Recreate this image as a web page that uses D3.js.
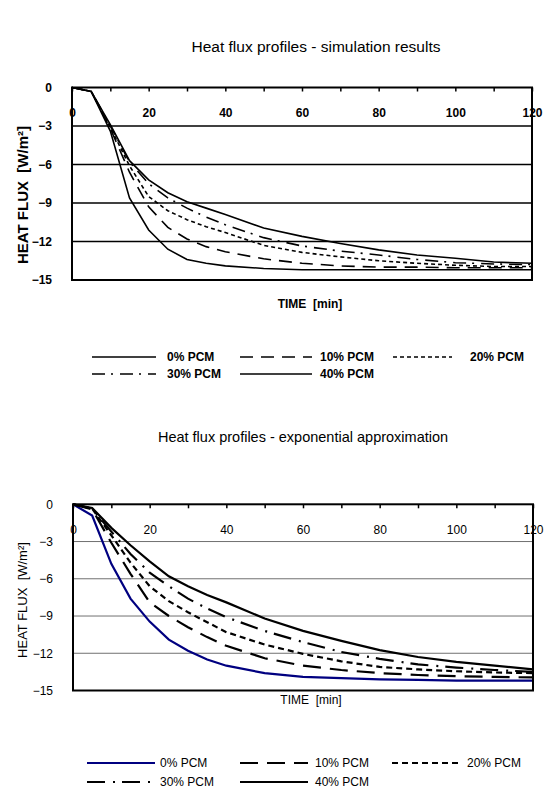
<!DOCTYPE html>
<html>
<head>
<meta charset="utf-8">
<script src="https://cdn.jsdelivr.net/npm/d3@7"></script>
<style>
body { margin: 0; background: #fff; }
text { font-family: "Liberation Sans", Arial, sans-serif; }
</style>
</head>
<body>
<div id="graph"></div>
<script>
// time steps [min]
var times = [0, 5, 10, 15, 20, 25, 30, 35, 40, 50, 60, 70, 80, 90, 100, 110, 120];
var seriesNames = ["0% PCM", "10% PCM", "20% PCM", "30% PCM", "40% PCM"];

// simulation results [W/m2]
var sim0 = [0, -0.3, -3.4, -8.6, -11.1, -12.6, -13.4, -13.7, -13.9, -14.1, -14.2, -14.2, -14.2, -14.2, -14.2, -14.2, -14.2];
var sim10 = [0, -0.3, -3.2, -6.6, -9.3, -10.9, -11.8, -12.4, -12.8, -13.35, -13.7, -13.9, -14.0, -14.0, -14.05, -14.05, -14.05];
var sim20 = [0, -0.3, -3.1, -6.1, -8.5, -9.6, -10.3, -10.85, -11.3, -12.3, -12.85, -13.2, -13.5, -13.7, -13.85, -13.95, -13.95];
var sim30 = [0, -0.3, -3.0, -5.8, -7.5, -8.6, -9.4, -10.1, -10.7, -11.7, -12.35, -12.75, -13.05, -13.4, -13.65, -13.75, -13.8];
var sim40 = [0, -0.3, -2.9, -5.7, -7.2, -8.2, -8.9, -9.4, -9.9, -10.95, -11.6, -12.15, -12.65, -13.05, -13.3, -13.6, -13.7];

// exponential approximation [W/m2]
var exp0 = [0, -0.9, -4.8, -7.6, -9.45, -10.9, -11.8, -12.5, -13.0, -13.6, -13.9, -14.0, -14.1, -14.15, -14.2, -14.2, -14.2];
var exp10 = [0, -0.4, -3.1, -5.6, -7.9, -9.0, -9.9, -10.7, -11.4, -12.4, -13.0, -13.35, -13.6, -13.75, -13.85, -13.9, -13.95];
var exp20 = [0, -0.35, -2.5, -4.7, -6.6, -7.8, -8.7, -9.5, -10.3, -11.3, -12.05, -12.65, -13.1, -13.3, -13.45, -13.55, -13.6];
var exp30 = [0, -0.35, -2.2, -4.0, -5.5, -6.6, -7.6, -8.4, -9.1, -10.2, -11.1, -11.9, -12.45, -12.9, -13.15, -13.35, -13.5];
var exp40 = [0, -0.3, -1.9, -3.3, -4.6, -5.8, -6.6, -7.3, -7.9, -9.2, -10.2, -11.0, -11.75, -12.3, -12.7, -13.0, -13.3];

var xTicks = [0, 10, 20, 30, 40, 50, 60, 70, 80, 90, 100, 110, 120];
var xTickLabels = [0, 20, 40, 60, 80, 100, 120];
var yTicks = [0, -3, -6, -9, -12, -15];

var w = 546;
var h = 792;

var svg = d3.select("#graph")
    .append("svg")
    .attr("width", w)
    .attr("height", h);

var drawChart = function (c) {
    var g = svg.append("g");
    var weight = c.bold ? "bold" : "normal";

    var xScale = d3.scaleLinear().domain([0, 120]).range([c.left, c.right]);
    var yScale = d3.scaleLinear().domain([0, -15]).range([c.top, c.bottom]);

    // title
    g.append("text")
        .attr("x", c.titleX)
        .attr("y", c.titleY)
        .attr("text-anchor", "middle")
        .attr("font-size", c.titleSize)
        .text(c.title);

    // horizontal grid lines
    g.selectAll(".grid")
        .data(yTicks.slice(1, -1))
        .enter()
        .append("line")
        .attr("x1", c.left)
        .attr("x2", c.right)
        .attr("y1", function (d) { return yScale(d); })
        .attr("y2", function (d) { return yScale(d); })
        .attr("stroke", c.gridColor)
        .attr("stroke-width", c.gridWidth);

    var line = d3.line()
        .x(function (d, i) { return xScale(times[i]); })
        .y(function (d) { return yScale(d); });

    g.selectAll(".series")
        .data(c.series)
        .enter()
        .append("path")
        .attr("d", line)
        .attr("fill", "none")
        .attr("stroke", function (d, i) { return c.colors[i]; })
        .attr("stroke-width", c.lineWidth)
        .attr("stroke-dasharray", function (d, i) { return c.dashes[i]; });

    // plot frame
    g.append("rect")
        .attr("x", c.left)
        .attr("y", c.top)
        .attr("width", c.right - c.left)
        .attr("height", c.bottom - c.top)
        .attr("fill", "none")
        .attr("stroke", "black")
        .attr("stroke-width", 2);

    // x axis sits on the zero line at the top, labels inside the plot
    var xAxis = d3.axisBottom(xScale)
        .tickValues(xTicks)
        .tickSize(4)
        .tickPadding(17)
        .tickFormat(function (d) { return xTickLabels.indexOf(d) >= 0 ? d : ""; });

    var xg = g.append("g")
        .attr("transform", "translate(0," + c.top + ")")
        .call(xAxis);
    xg.select(".domain").remove();
    xg.selectAll(".tick line").attr("stroke", "black").attr("stroke-width", 1.5);
    xg.selectAll("text")
        .attr("fill", "black")
        .attr("font-size", "12px")
        .attr("font-weight", weight)
        .attr("font-family", "Liberation Sans, Arial, sans-serif");

    var yAxis = d3.axisLeft(yScale)
        .tickValues(yTicks)
        .tickSize(0)
        .tickPadding(c.left - c.yLabelRight);

    var yg = g.append("g")
        .attr("transform", "translate(" + c.left + ",0)")
        .call(yAxis);
    yg.select(".domain").remove();
    yg.selectAll("text")
        .attr("fill", "black")
        .attr("font-size", "12px")
        .attr("font-weight", weight)
        .attr("font-family", "Liberation Sans, Arial, sans-serif");

    // axis titles
    g.append("text")
        .attr("transform", "translate(" + c.yTitleX + "," + c.yTitleY + ") rotate(-90)")
        .attr("text-anchor", "middle")
        .attr("dy", "0.35em")
        .attr("font-size", c.yTitleSize)
        .attr("font-weight", weight)
        .attr("xml:space", "preserve")
        .text("HEAT FLUX  [W/m²]");

    g.append("text")
        .attr("x", c.xTitleX)
        .attr("y", c.xTitleY)
        .attr("text-anchor", "middle")
        .attr("font-size", c.xTitleSize)
        .attr("font-weight", weight)
        .attr("xml:space", "preserve")
        .text("TIME  [min]");

    // legend
    var legend = g.selectAll(".legend")
        .data(seriesNames)
        .enter()
        .append("g");

    legend.append("line")
        .attr("x1", function (d, i) { return c.legendX1[i % 3]; })
        .attr("x2", function (d, i) { return c.legendX2[i % 3]; })
        .attr("y1", function (d, i) { return c.legendRowY[Math.floor(i / 3)]; })
        .attr("y2", function (d, i) { return c.legendRowY[Math.floor(i / 3)]; })
        .attr("stroke", function (d, i) { return c.colors[i]; })
        .attr("stroke-width", c.lineWidth)
        .attr("stroke-dasharray", function (d, i) { return c.dashes[i]; });

    legend.append("text")
        .attr("x", function (d, i) { return c.legendTextX[i % 3]; })
        .attr("y", function (d, i) { return c.legendRowY[Math.floor(i / 3)] + 4; })
        .attr("font-size", "12px")
        .attr("font-weight", weight)
        .text(function (d) { return d; });
};

drawChart({
    title: "Heat flux profiles - simulation results",
    titleX: 316, titleY: 52, titleSize: "15.5px",
    left: 72, right: 532, top: 87.5, bottom: 280,
    bold: true,
    series: [sim0, sim10, sim20, sim30, sim40],
    colors: ["black", "black", "black", "black", "black"],
    dashes: [null, "13,8", "4,3", "13,6,2,7", null],
    lineWidth: 1.6,
    gridColor: "black", gridWidth: 1.5,
    yLabelRight: 52,
    yTitleX: 23, yTitleY: 195, yTitleSize: "15px",
    xTitleX: 310, xTitleY: 308, xTitleSize: "12px",
    legendX1: [92, 240, 393], legendX2: [156, 312, 452], legendTextX: [167, 320, 470],
    legendRowY: [357, 374]
});

drawChart({
    title: "Heat flux profiles - exponential approximation",
    titleX: 303, titleY: 442, titleSize: "14.5px",
    left: 73, right: 533, top: 504.3, bottom: 690.5,
    bold: false,
    series: [exp0, exp10, exp20, exp30, exp40],
    colors: ["#000080", "black", "black", "black", "black"],
    dashes: [null, "18,9", "6,4", "18,8,2,7", null],
    lineWidth: 2.2,
    gridColor: "#707070", gridWidth: 1,
    yLabelRight: 53,
    yTitleX: 22, yTitleY: 600, yTitleSize: "13px",
    xTitleX: 311, xTitleY: 704, xTitleSize: "12px",
    legendX1: [87, 240, 392], legendX2: [155, 308, 460], legendTextX: [160, 315, 467],
    legendRowY: [763, 782]
});
</script>
</body>
</html>
